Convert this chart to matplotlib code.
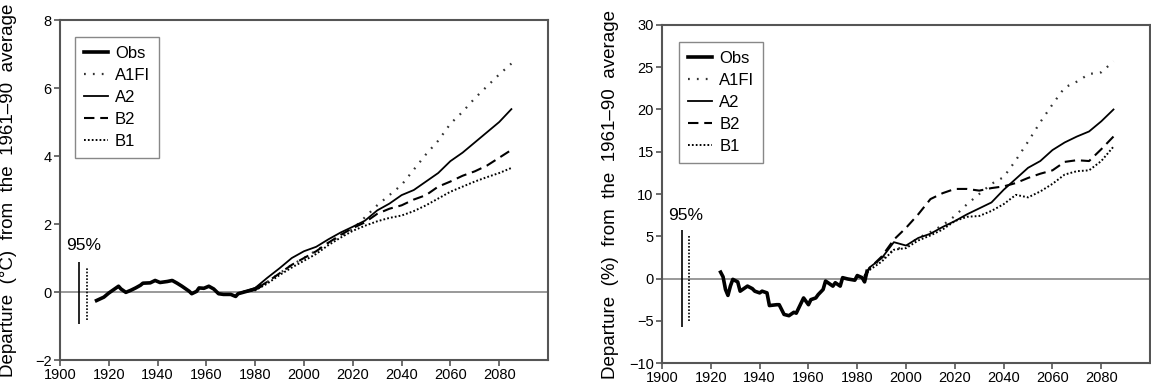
"""
Observed and projected departures from the 1961-90 average:
temperature (left) and precipitation (right), with SRES scenarios.
"""

import matplotlib
matplotlib.use("Agg")
import matplotlib.pyplot as plt

plt.rcParams["font.family"] = ["Liberation Sans", "DejaVu Sans"]

# Left panel: temperature departure (deg C)
obs_t_years = [1915, 1918, 1920, 1922, 1924, 1925, 1927, 1929, 1931, 1933, 1934,
               1937, 1939, 1941, 1944, 1946, 1948, 1950, 1953, 1954, 1956, 1957,
               1959, 1961, 1963, 1965, 1967, 1970, 1972, 1973, 1975, 1977, 1980,
               1982]
obs_t = [-0.25, -0.15, -0.03, 0.07, 0.17, 0.09, -0.01, 0.05, 0.12, 0.2, 0.26,
         0.27, 0.34, 0.28, 0.31, 0.34, 0.26, 0.17, 0.02, -0.05, 0.02, 0.12,
         0.11, 0.17, 0.09, -0.05, -0.07, -0.07, -0.13, -0.05, -0.01, 0.03, 0.09,
         0.17]

scen_t_years = [1975, 1980, 1985, 1990, 1995, 2000, 2005, 2010, 2015, 2020, 2025,
                2030, 2035, 2040, 2045, 2050, 2055, 2060, 2065, 2070, 2075, 2080,
                2085]
a1fi_t = [0.0, 0.08, 0.3, 0.55, 0.8, 1.0, 1.22, 1.45, 1.65, 1.85, 2.2, 2.55,
          2.85, 3.15, 3.6, 4.05, 4.45, 4.95, 5.3, 5.7, 6.05, 6.4, 6.72]
a2_t = [0.0, 0.12, 0.42, 0.7, 1.0, 1.2, 1.33, 1.55, 1.75, 1.92, 2.1, 2.4, 2.6,
        2.85, 3.0, 3.25, 3.5, 3.85, 4.1, 4.4, 4.7, 5.0, 5.38]
b2_t = [0.0, 0.08, 0.3, 0.55, 0.8, 1.0, 1.2, 1.45, 1.68, 1.88, 2.05, 2.3, 2.45,
        2.55, 2.72, 2.85, 3.1, 3.25, 3.42, 3.55, 3.72, 3.95, 4.18]
b1_t = [0.0, 0.05, 0.25, 0.5, 0.72, 0.92, 1.12, 1.38, 1.6, 1.8, 1.95, 2.08, 2.18,
        2.25, 2.38, 2.55, 2.75, 2.95, 3.1, 3.25, 3.38, 3.5, 3.65]

# 95% ranges: (year, low, high)
ci_t_solid = (1908, -0.95, 0.88)
ci_t_dotted = (1911, -0.82, 0.75)

# Right panel: precipitation departure (%)
obs_p_years = [1924, 1925, 1926, 1927, 1928, 1929, 1931, 1932, 1934, 1935, 1937,
               1938, 1940, 1941, 1943, 1944, 1947, 1948, 1950, 1952, 1954, 1955,
               1957, 1958, 1960, 1961, 1963, 1964, 1966, 1967, 1968, 1970, 1971,
               1973, 1974, 1976, 1979, 1980, 1982, 1983, 1984]
obs_p = [0.75, 0.2, -1.3, -2.0, -0.9, -0.1, -0.4, -1.5, -1.1, -0.9, -1.2, -1.5,
         -1.7, -1.5, -1.7, -3.2, -3.1, -3.1, -4.25, -4.4, -4.0, -4.1, -2.9, -2.3,
         -3.1, -2.5, -2.3, -1.9, -1.3, -0.3, -0.5, -0.9, -0.5, -0.9, 0.1, -0.05,
         -0.2, 0.35, 0.1, -0.4, 0.85]

scen_p_years = [1983, 1985, 1990, 1995, 2000, 2005, 2010, 2015, 2020, 2025, 2030,
                2035, 2040, 2045, 2050, 2055, 2060, 2065, 2070, 2075, 2080, 2085]
a1fi_p = [0.3, 1.2, 2.3, 3.4, 3.8, 4.8, 5.5, 6.3, 7.4, 8.8, 10.0, 11.2, 12.0,
          14.0, 16.2, 18.5, 20.6, 22.6, 23.3, 24.2, 24.4, 25.7]
a2_p = [0.3, 1.3, 2.4, 4.3, 3.9, 4.8, 5.3, 6.1, 6.8, 7.6, 8.3, 9.0, 10.5, 11.8,
        13.1, 13.9, 15.2, 16.1, 16.8, 17.4, 18.6, 20.0]
b2_p = [0.3, 1.2, 2.6, 4.6, 6.0, 7.6, 9.4, 10.1, 10.6, 10.6, 10.4, 10.7, 10.9,
        11.3, 11.9, 12.4, 12.8, 13.8, 14.0, 13.9, 15.3, 16.8]
b1_p = [0.3, 1.0, 2.0, 3.4, 3.6, 4.5, 5.1, 5.8, 6.8, 7.3, 7.4, 8.0, 8.8, 9.9,
        9.6, 10.3, 11.2, 12.3, 12.7, 12.8, 13.9, 15.6]

ci_p_solid = (1908, -5.7, 5.7)
ci_p_dotted = (1911, -5.0, 5.0)

x_ticks = [1900, 1920, 1940, 1960, 1980, 2000, 2020, 2040, 2060, 2080]

SPINE = "#555555"

STYLES = {
    "Obs": dict(color="black", lw=2.6, ls="-"),
    "A1FI": dict(color="#333333", lw=1.6, ls=(0, (0.8, 3.2))),
    "A2": dict(color="black", lw=1.3, ls="-"),
    "B2": dict(color="black", lw=1.5, ls=(0, (5, 2.8))),
    "B1": dict(color="black", lw=1.4, ls=(0, (0.9, 1.1))),
}


def draw_panel(ax, obs_years, obs, scen_years, scen, ci_solid, ci_dotted,
               ylim, yticks, ylabel, text_y, legend_anchor):
    ax.axhline(0, color="#999999", lw=1.4, zorder=1)

    ax.plot(obs_years, obs, label="Obs", zorder=5, **STYLES["Obs"])
    for name, values in scen.items():
        ax.plot(scen_years, values, label=name, zorder=4, **STYLES[name])

    ax.vlines(ci_solid[0], ci_solid[1], ci_solid[2], color="black", lw=1.2)
    ax.vlines(ci_dotted[0], ci_dotted[1], ci_dotted[2], color="black", lw=1.2,
              linestyles=(0, (1, 1)))
    ax.text(1909.8, text_y, "95%", ha="center", va="center", fontsize=12.5)

    ax.set_xlim(1900, 2100)
    ax.set_ylim(*ylim)
    ax.set_xticks(x_ticks)
    ax.set_yticks(yticks)
    ax.tick_params(direction="out", length=4, width=1.2, color=SPINE,
                   labelsize=10.5, pad=2)
    for spine in ax.spines.values():
        spine.set_color(SPINE)
        spine.set_linewidth(1.5)

    ax.set_ylabel(ylabel, fontsize=13.5)
    ax.yaxis.set_label_coords(-0.088, 0.5)

    leg = ax.legend(loc="upper left", bbox_to_anchor=legend_anchor,
                    borderaxespad=0, fontsize=12, handlelength=1.4,
                    handletextpad=0.45, labelspacing=0.42, borderpad=0.55,
                    fancybox=False, framealpha=1)
    leg.get_frame().set_edgecolor("#888888")
    leg.get_frame().set_linewidth(1.0)


def main() -> None:
    fig = plt.figure(figsize=(11.51, 3.85), dpi=100)
    ax_t = fig.add_axes([0.0521, 0.0649, 0.424, 0.883])
    ax_p = fig.add_axes([0.5752, 0.0571, 0.424, 0.878])

    draw_panel(
        ax_t, obs_t_years, obs_t, scen_t_years,
        {"A1FI": a1fi_t, "A2": a2_t, "B2": b2_t, "B1": b1_t},
        ci_t_solid, ci_t_dotted, (-2, 8), [-2, 0, 2, 4, 6, 8],
        "Departure  (\u00b0C)  from  the  1961\u201390  average",
        1.36, (0.031, 0.95),
    )
    draw_panel(
        ax_p, obs_p_years, obs_p, scen_p_years,
        {"A1FI": a1fi_p, "A2": a2_p, "B2": b2_p, "B1": b1_p},
        ci_p_solid, ci_p_dotted, (-10, 30), [-10, -5, 0, 5, 10, 15, 20, 25, 30],
        "Departure  (%)  from  the  1961\u201390  average",
        7.5, (0.035, 0.95),
    )

    fig.savefig("out.png", dpi=100)
    plt.close(fig)


if __name__ == "__main__":
    main()
